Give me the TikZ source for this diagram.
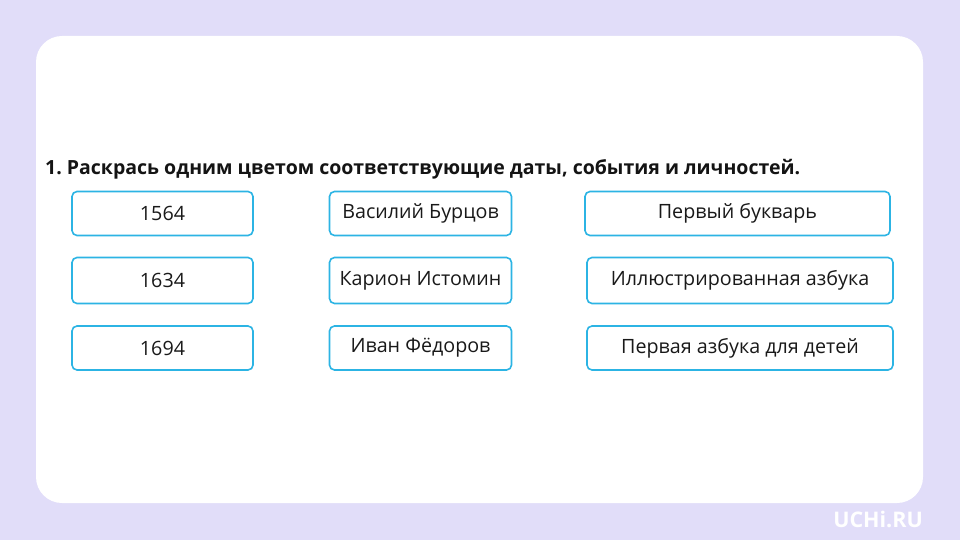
\documentclass[tikz,border=0pt]{standalone}
\usepackage{fontspec}
\setmainfont{Open Sans}
\frenchspacing
\definecolor{bgl}{HTML}{E1DDF9}
\definecolor{bluebd}{HTML}{2CB4E4}
\begin{document}
\begin{tikzpicture}[x=1pt,y=-1pt,
  item/.style={draw=bluebd,line width=1.6pt,rounded corners=5pt,fill=white,inner sep=0pt,
    font=\fontsize{19.7}{22}\selectfont,text=black!90}]
\fill[bgl] (0,0) rectangle (960,540);
\useasboundingbox (0,0) rectangle (960,540);
\fill[white,rounded corners=26pt] (36,36) rectangle (923,503);
\node[anchor=base west,inner sep=0pt,font=\bfseries\fontsize{19.5}{22}\selectfont,text=black!92] (title) at (45,175) {1. Раскрась одним цветом соответствующие даты, события и личностей.};
% column 1
\node[item,minimum width=181pt,minimum height=44pt] (d1) at (162.5,213.5) {1564};
\node[item,minimum width=181pt,minimum height=46pt] (d2) at (162.5,280.5) {1634};
\node[item,minimum width=181pt,minimum height=44pt] (d3) at (162.5,348) {1694};
% column 2
\node[item,minimum width=182pt,minimum height=44pt] (p1) at (420.5,213.5) {Василий Бурцов};
\node[item,minimum width=182pt,minimum height=46pt] (p2) at (420.5,280.5) {Карион Истомин};
\node[item,minimum width=182pt,minimum height=44pt] (p3) at (420.5,348) {Иван Фёдоров};
% column 3
\node[item,minimum width=305pt,minimum height=44pt] (e1) at (737.5,213.5) {Первый букварь};
\node[item,minimum width=306pt,minimum height=46pt] (e2) at (740,280.5) {Иллюстрированная азбука};
\node[item,minimum width=306pt,minimum height=44pt] (e3) at (740,348) {Первая азбука для детей};
% logo
\node[anchor=base east,inner sep=0pt,text=white,font=\bfseries\fontsize{21.5}{24}\selectfont] (logo) at (923,527) {UCHi.RU};
\end{tikzpicture}
\end{document}
